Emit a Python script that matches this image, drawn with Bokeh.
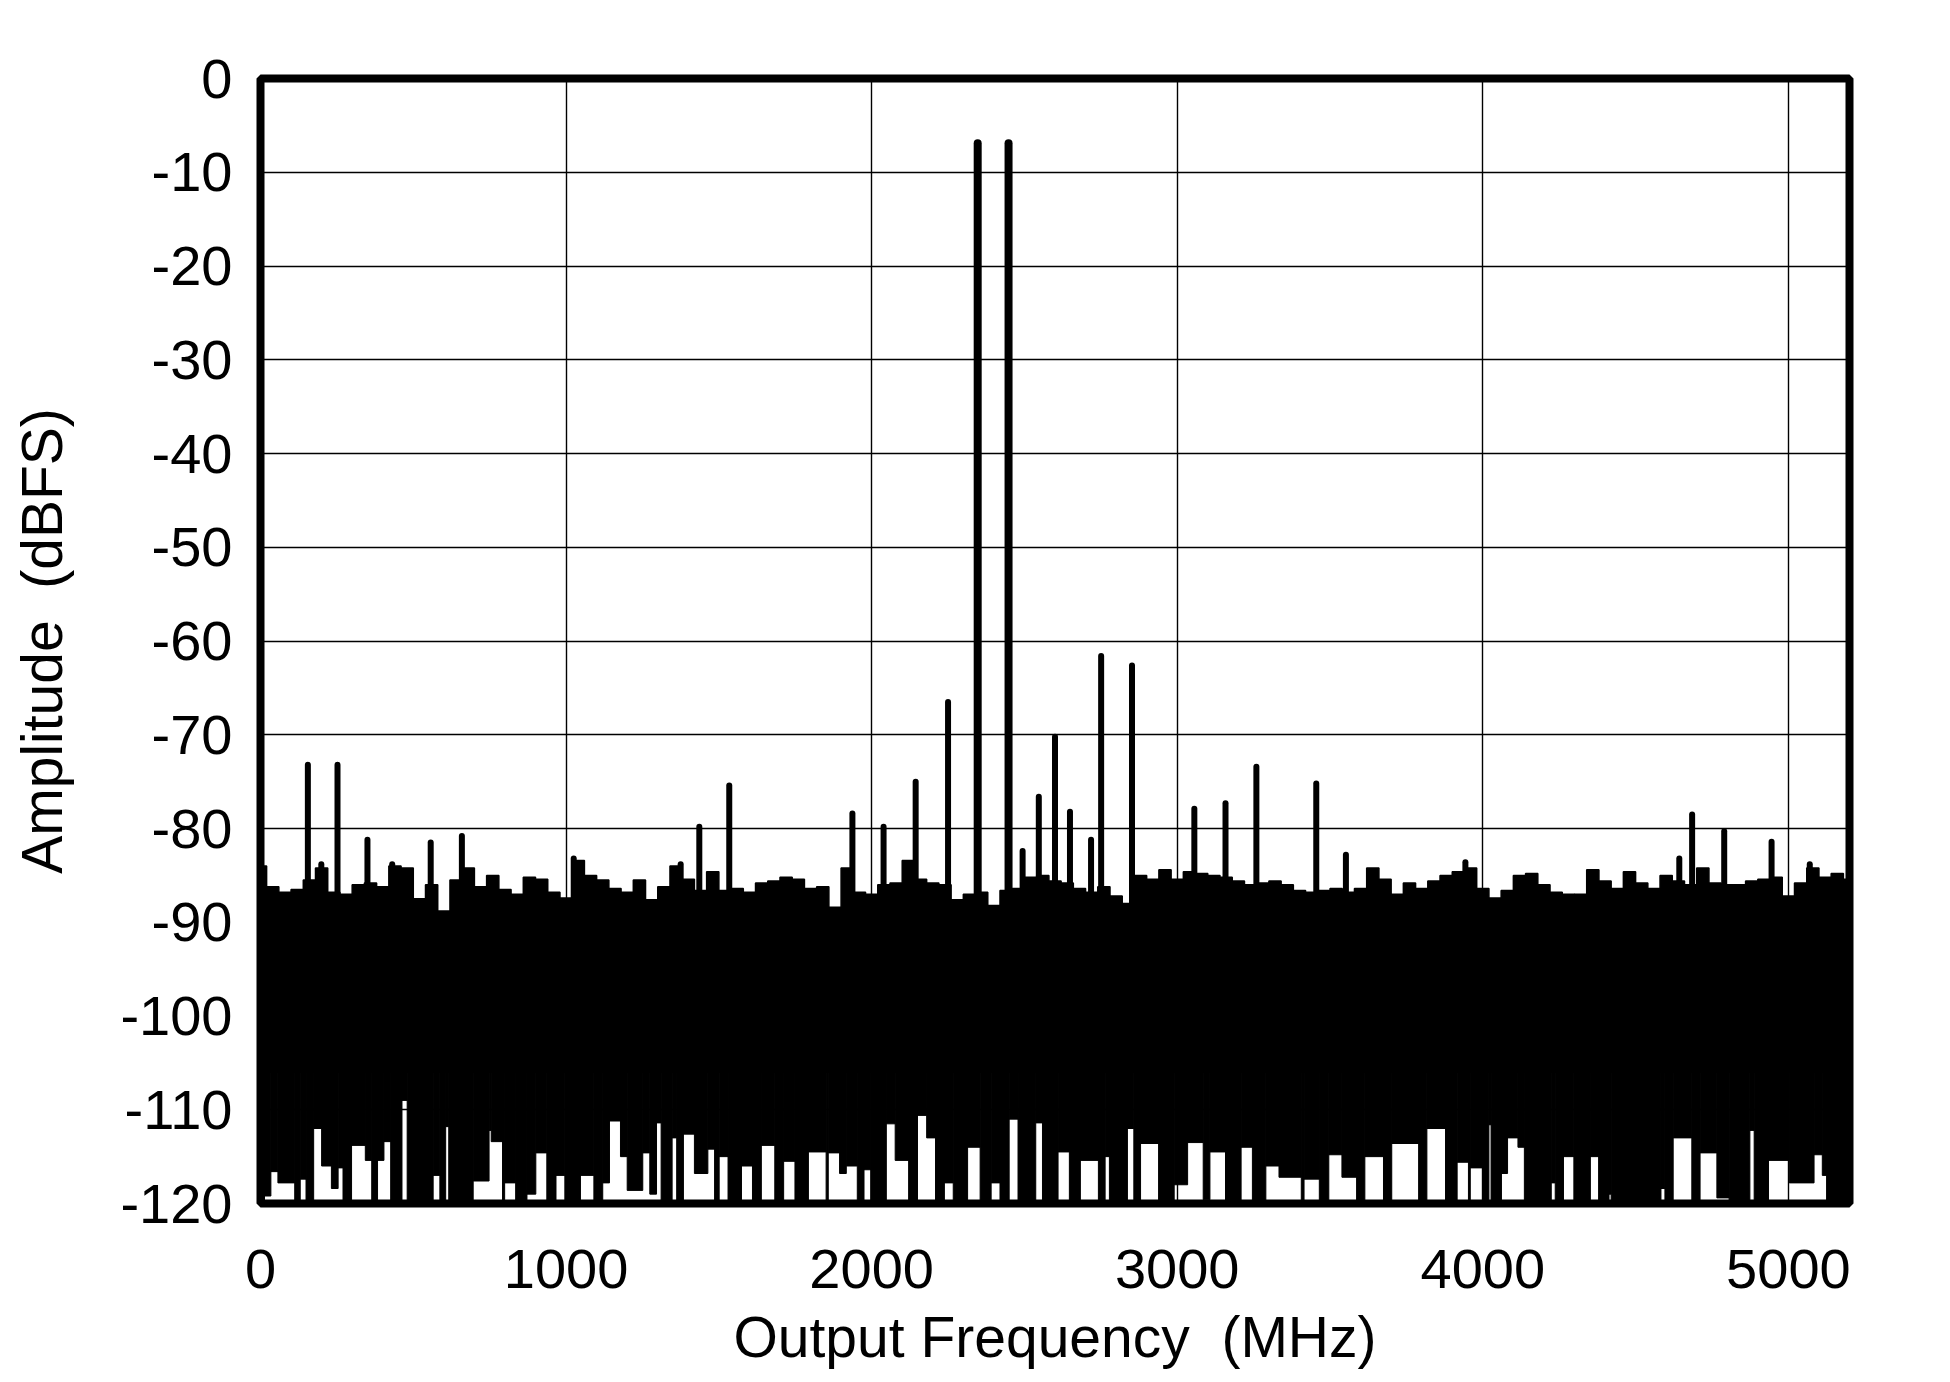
from bokeh.plotting import figure
from bokeh.models import Range1d, FixedTicker
from bokeh.embed import file_html
from bokeh.resources import INLINE

# ---------------- data ----------------
# upper edge of the noise floor, sampled every 40 MHz (0 .. 5200 MHz), dBFS
floor_f = list(range(0, 5201, 40))
floor_top = [
    -84.0, -86.2, -86.8, -86.5, -85.5, -84.2, -86.8, -87.0, -86.0, -85.8,
    -86.2, -84.0, -84.2, -87.5, -86.0, -88.8, -85.5, -84.2, -86.2, -85.0,
    -86.5, -87.0, -85.2, -85.4, -86.8, -87.4, -83.4, -85.0, -85.5, -86.4,
    -86.8, -85.5, -87.6, -86.2, -84.0, -85.4, -86.6, -84.6, -86.6, -86.4,
    -86.8, -85.8, -85.6, -85.2, -85.4, -86.4, -86.2, -88.4, -84.2, -86.8,
    -87.0, -86.0, -85.8, -83.4, -85.4, -85.8, -86.0, -87.6, -87.0, -86.8,
    -88.2, -86.6, -86.4, -85.2, -85.0, -85.6, -85.8, -86.4, -86.8, -86.2,
    -87.2, -88.0, -85.0, -85.4, -84.4, -85.4, -84.6, -84.8, -85.0, -85.2,
    -85.6, -86.0, -85.8, -85.6, -86.0, -86.6, -86.8, -86.6, -86.4, -86.8,
    -86.4, -84.2, -85.4, -87.0, -85.8, -86.4, -85.6, -85.0, -84.6, -84.2,
    -86.4, -87.4, -86.6, -85.0, -84.8, -86.0, -86.8, -87.0, -87.0, -84.4,
    -85.6, -86.4, -84.6, -85.8, -86.4, -85.0, -85.6, -86.0, -84.2, -85.8,
    -86.0, -86.0, -85.6, -85.4, -85.2, -87.2, -85.8, -84.2, -85.2, -84.8,
    -85.4,
]

# lower edge of the noise floor: frequency bands (MHz) and their minimum (dBFS)
gap_start = [
    0, 13, 34, 57, 112, 130, 149, 174, 200, 232, 254, 270, 298, 343, 364, 383,
    404, 426, 463, 480, 565, 587, 606, 616, 696, 748, 755, 792, 799, 835, 872,
    901, 937, 967, 996, 1047, 1091, 1120, 1142, 1178, 1200, 1251,
    1274, 1296, 1311, 1347, 1362, 1384, 1420, 1464, 1486, 1501, 1530, 1574,
    1610, 1639, 1683, 1712, 1749, 1793, 1851, 1858, 1895, 1917, 1953, 1975,
    1997, 2048, 2077, 2121, 2150, 2180, 2209, 2238, 2267, 2314, 2355, 2391,
    2420, 2450, 2479, 2537, 2559, 2610, 2647, 2683, 2742, 2764, 2778, 2837,
    2858, 2880, 2939, 2990, 3034, 3085, 3107, 3158, 3209, 3246, 3290, 3333,
    3406, 3415, 3465, 3496, 3539, 3587, 3614, 3675, 3702, 3790, 3817, 3878,
    3916, 3953, 3959, 4000, 4020, 4027, 4061, 4081, 4115, 4136, 4224, 4237,
    4264, 4298, 4352, 4379, 4413, 4420, 4583, 4596, 4623, 4684, 4711, 4766,
    4806, 4874, 4888, 4935, 5003, 5084, 5111, 5125,
]
gap_end = gap_start[1:] + [5200]
gap_min = [
    -120, -119.2, -116.6, -117.8, -120, -117.4, -120, -112.0, -116.0, -118.4,
    -116.2, -120, -113.8, -115.4, -120, -115.4, -113.4, -120, -109.0, -120,
    -117.0, -119.8, -111.8, -120, -117.6, -112.2, -113.4, -120, -117.8, -120,
    -119.0, -114.6, -120, -117.0, -120, -117.0, -120, -117.8, -111.2, -115.0,
    -118.6, -114.6,
    -119.0, -111.4, -120, -113.0, -120, -112.6, -116.8, -114.2, -120, -115.0,
    -120, -116.0, -120, -113.8, -120, -115.5, -120, -114.5, -120, -114.6,
    -116.8, -116.0, -120, -116.4, -120, -111.5, -115.4, -120, -110.6, -113.0,
    -120, -117.8, -120, -114.0, -120, -117.8, -120, -111.0, -120, -111.4,
    -120, -114.5, -120, -115.4, -120, -115.0, -120, -112.0, -120, -113.6,
    -120, -118.0, -113.5, -119.6, -114.5, -120, -114.0, -120, -116.0, -117.2,
    -120, -117.4, -120, -114.8, -117.2, -120, -115.0, -120, -113.6, -120,
    -112.0, -120, -115.6, -120, -116.2, -120, -111.6, -120, -116.8, -113.0,
    -114.0, -120, -117.8, -120, -115.0, -120, -115.0, -120, -119.0, -120,
    -118.4, -120, -113.0, -120, -114.6, -119.4, -120, -112.2, -120, -115.4,
    -117.8, -114.8, -117.0, -120,
]

# tones and spurs: frequency (MHz) and peak level (dBFS)
spur_f = [155, 199, 252, 350, 431, 557, 659, 1025, 1375, 1436, 1534, 1937,
          2039, 2144, 2250, 2347, 2448, 2494, 2547, 2600, 2649, 2718, 2751,
          2852, 3056, 3158, 3259, 3455, 3552, 3943, 4643, 4685, 4790, 4945,
          5070]
spur_db = [-73.2, -83.8, -73.2, -81.2, -83.8, -81.5, -80.8, -83.2, -83.8,
           -79.8, -75.4, -78.4, -79.8, -75.0, -66.5, -6.9, -6.9, -82.4, -76.6,
           -70.2, -78.2, -81.2, -61.6, -62.6, -77.9, -77.3, -73.4, -75.2,
           -82.8, -83.6, -83.2, -78.5, -80.3, -81.4, -83.8]

x_ticks = [0, 1000, 2000, 3000, 4000, 5000]
y_ticks = [-120, -110, -100, -90, -80, -70, -60, -50, -40, -30, -20, -10, 0]

assert len(floor_f) == len(floor_top)
assert len(gap_start) == len(gap_min)

# ---------------- figure ----------------
FONT = "Liberation Sans"
W, H = 1934, 1374
p = figure(width=W, height=H,
           x_range=Range1d(0, 5200), y_range=Range1d(-120, 0),
           output_backend="svg", toolbar_location=None,
           min_border_left=260, min_border_right=W - 1849,
           min_border_top=78, min_border_bottom=H - 1203)

p.background_fill_color = "white"
p.border_fill_color = "white"
p.outline_line_color = "black"
p.outline_line_width = 8

for ax, ticks in ((p.xaxis, x_ticks), (p.yaxis, y_ticks)):
    ax.ticker = FixedTicker(ticks=ticks)
    ax.major_label_overrides = {t: str(t) for t in ticks}
    ax.axis_line_color = None
    ax.major_tick_line_color = None
    ax.minor_tick_line_color = None
    ax.major_tick_out = 0
    ax.major_tick_in = 0
    ax.major_label_text_font = FONT
    ax.major_label_text_font_size = "56px"
    ax.major_label_text_color = "black"
    ax.axis_label_text_font = FONT
    ax.axis_label_text_font_size = "57px"
    ax.axis_label_text_font_style = "normal"
    ax.axis_label_text_color = "black"

p.xaxis.axis_label = "Output Frequency \u00a0(MHz)"
p.yaxis.axis_label = "Amplitude \u00a0(dBFS)"
p.xaxis.major_label_standoff = 46
p.yaxis.major_label_standoff = 28
p.xaxis.axis_label_standoff = 14
p.yaxis.axis_label_standoff = 43

p.xgrid.ticker = FixedTicker(ticks=x_ticks)
p.ygrid.ticker = FixedTicker(ticks=y_ticks)
for g in (p.xgrid, p.ygrid):
    g.grid_line_color = "black"
    g.grid_line_width = 1.4
    g.grid_line_alpha = 1.0

# noise floor body: stepped upper edge, notched lower edge
half = 20
p.quad(left=[f - half for f in floor_f], right=[f + half for f in floor_f],
       bottom=[-106] * len(floor_f), top=floor_top,
       fill_color="black", line_color="black", line_width=1.5)
p.quad(left=gap_start, right=gap_end, bottom=gap_min, top=[-105] * len(gap_min),
       fill_color="black", line_color="black", line_width=1)

# spurs and tones
small_f = [f for f, d in zip(spur_f, spur_db) if d < -30]
small_d = [d for d in spur_db if d < -30]
big_f = [f for f, d in zip(spur_f, spur_db) if d >= -30]
big_d = [d for d in spur_db if d >= -30]
p.segment(x0=small_f, y0=[-88] * len(small_f), x1=small_f, y1=small_d,
          line_color="black", line_width=6, line_cap="round")
p.segment(x0=big_f, y0=[-88] * len(big_f), x1=big_f, y1=big_d,
          line_color="black", line_width=8, line_cap="round")

open("out.html", "w").write(file_html(p, INLINE))
